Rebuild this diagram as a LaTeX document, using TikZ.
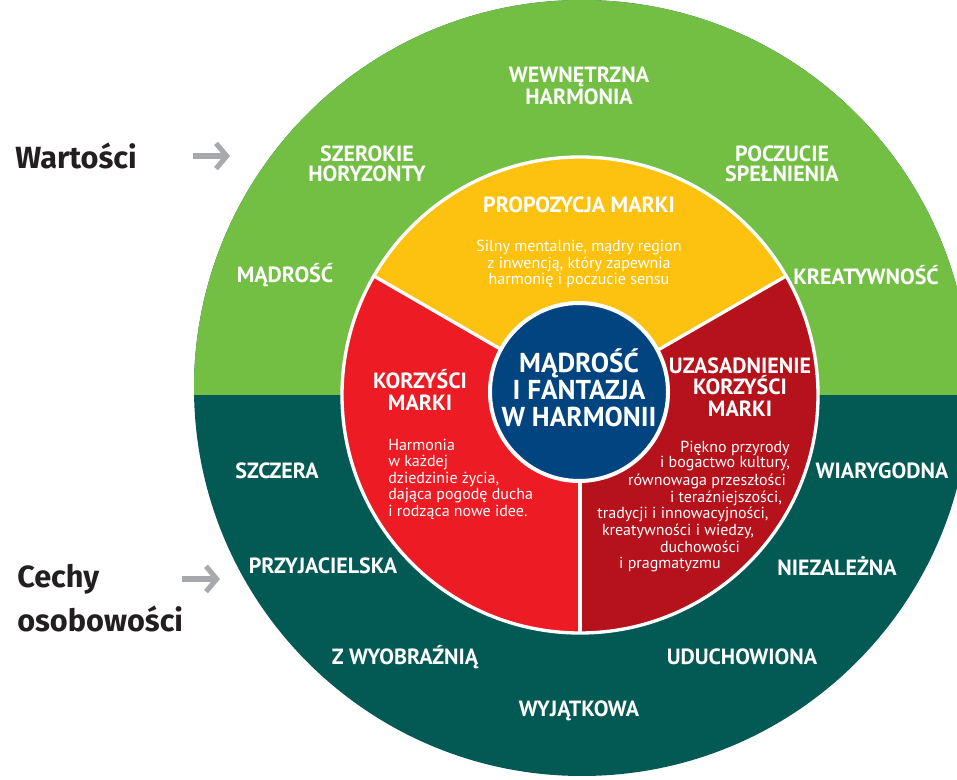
\documentclass[tikz,border=0pt]{standalone}
\usepackage{fontspec}
\setmainfont{PT Sans}
\newfontfamily\sidefont{Fira Sans}
\usetikzlibrary{arrows.meta}

\definecolor{leafgreen}{RGB}{114,191,68}
\definecolor{deepteal}{RGB}{3,90,84}
\definecolor{sunyellow}{RGB}{253,194,15}
\definecolor{brightred}{RGB}{237,28,36}
\definecolor{darkred}{RGB}{181,18,27}
\definecolor{navyblue}{RGB}{1,68,127}
\definecolor{arrowgray}{RGB}{167,169,172}
\definecolor{inkdark}{RGB}{35,31,32}

\begin{document}
\begin{tikzpicture}[
		x=0.75pt, y=0.75pt,
		every node/.style={inner sep=0, text=white},
		ringlabel/.style={font=\bfseries\fontsize{16.5}{15}\selectfont, align=center},
		sectorhead/.style={font=\bfseries\fontsize{16.5}{16}\selectfont, align=center},
		sectorbody/.style={font=\fontsize{12}{12.4}\selectfont},
		corelabel/.style={font=\bfseries\fontsize{20.5}{20.3}\selectfont, align=center},
		sidelabel/.style={font=\sidefont\bfseries\fontsize{23}{33}\selectfont, text=inkdark, anchor=west, align=left},
		pointer/.style={draw=arrowgray, line width=3.8pt, -{Straight Barb[length=8pt,width=19pt]}},
	]
	\useasboundingbox (0,0) rectangle (957,779);
	\coordinate (outer) at (582,391);
	\coordinate (core) at (580,384);

	% outer ring: values on top, personality below
	\begin{scope}
		\clip (0,0) rectangle (957,779);
		\fill[deepteal] (outer) circle[radius=388];
		\clip (0,384) rectangle (957,779);
		\fill[leafgreen] (outer) circle[radius=388];
	\end{scope}

	% inner disc in three sectors
	\fill[sunyellow] (core) -- ++(30:238) arc[start angle=30, end angle=150, radius=238] -- cycle;
	\fill[brightred] (core) -- ++(150:238) arc[start angle=150, end angle=270, radius=238] -- cycle;
	\fill[darkred] (core) -- ++(270:238) arc[start angle=270, end angle=390, radius=238] -- cycle;
	\draw[white, line width=2.5pt] (core) circle[radius=238];
	\foreach \a in {30,150,270}
		\draw[white, line width=2.5pt] (core) -- ++(\a:238);
	\filldraw[fill=navyblue, draw=white, line width=3pt] (579,387) circle[radius=89];

	\node[corelabel] (motto) at (579,391) {MĄDROŚĆ\\I FANTAZJA\\W HARMONII};

	\node[ringlabel] (inner) at (579,693) {WEWNĘTRZNA\\HARMONIA};
	\node[ringlabel] (horizon) at (367,615) {SZEROKIE\\HORYZONTY};
	\node[ringlabel] (fulfil) at (782,615) {POCZUCIE\\SPEŁNIENIA};
	\node[ringlabel] (wisdom) at (285,504) {MĄDROŚĆ};
	\node[ringlabel] (creative) at (866,504) {KREATYWNOŚĆ};
	\node[ringlabel] (sincere) at (277,308) {SZCZERA};
	\node[ringlabel] (friendly) at (323,213) {PRZYJACIELSKA};
	\node[ringlabel] (imagine) at (405,122) {Z WYOBRAŹNIĄ};
	\node[ringlabel] (credible) at (882,308) {WIARYGODNA};
	\node[ringlabel] (independent) at (837,213) {NIEZALEŻNA};
	\node[ringlabel] (spiritual) at (742,122) {UDUCHOWIONA};
	\node[ringlabel] (unique) at (579,68) {WYJĄTKOWA};

	\node[sectorhead] (offer) at (579,574) {PROPOZYCJA MARKI};
	\node[sectorbody, align=center] (offertext) at (579,515)
		{Silny mentalnie, mądry region\\z inwencją, który zapewnia\\harmonię i poczucie sensu};

	\node[sectorhead] (benefit) at (420,389) {KORZYŚCI\\MARKI};
	\node[sectorbody, align=left, anchor=west] (benefittext) at (388,300)
		{Harmonia\\w każdej\\dziedzinie życia,\\dająca pogodę ducha\\i rodząca nowe idee.};

	\node[sectorhead] (reason) at (740,392) {UZASADNIENIE\\KORZYŚCI\\MARKI};
	\foreach \txt/\xx/\yy [count=\i] in {
			{Piękno przyrody}/735/331,
			{i bogactwo kultury,}/725/315,
			{równowaga przeszłości}/707/298,
			{i teraźniejszości,}/726/281,
			{tradycji i innowacyjności,}/683/265,
			{kreatywności i wiedzy,}/678/248,
			{duchowości}/700/232,
			{i pragmatyzmu}/670/214}
		\node[sectorbody] (reasontext\i) at (\xx,\yy) {\txt};

	\node[sidelabel] (values) at (15,623) {Wartości};
	\node[sidelabel] (traits) at (17,181) {Cechy\\osobowości};
	\coordinate (valtail) at (193,623);
	\coordinate (valtip) at (230,623);
	\coordinate (traittail) at (182,200);
	\coordinate (traittip) at (220,200);
	\draw[pointer] (valtail) -- (valtip);
	\draw[pointer] (traittail) -- (traittip);
\end{tikzpicture}
\end{document}
